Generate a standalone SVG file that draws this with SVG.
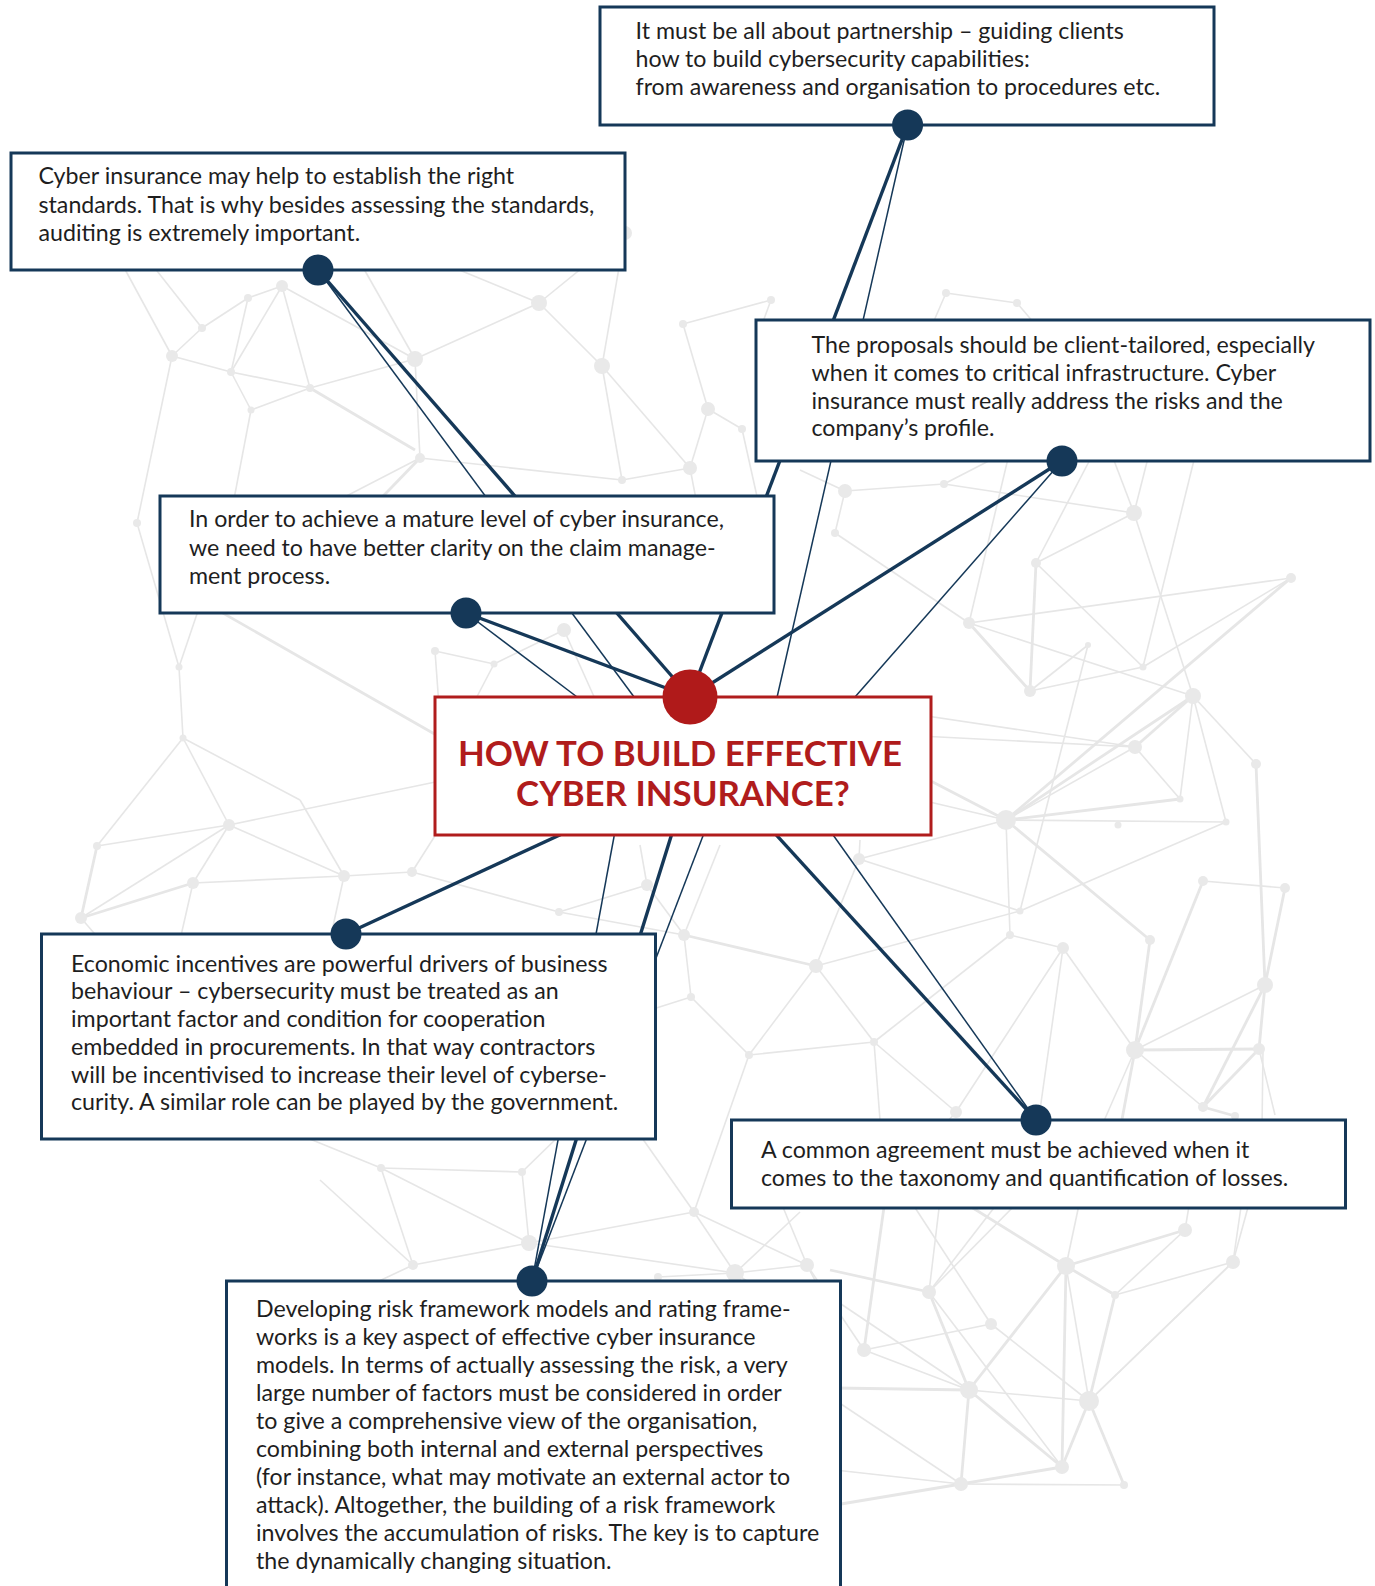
<svg xmlns="http://www.w3.org/2000/svg" width="1375" height="1586" viewBox="0 0 1375 1586">
<style>
.bg line{stroke:#e6e6e6;stroke-width:1.6}
.bg .w{stroke-width:2.8}
.bg circle{fill:#e9e9e9}
.box{fill:#fff;stroke:#153858;stroke-width:3}
.cbox{fill:#fff;stroke:#b01c1c;stroke-width:3}
.t{font-family:Lato,"Liberation Sans",sans-serif;font-size:23.2px;fill:#1e1e1e}
.title{font-family:Lato,"Liberation Sans",sans-serif;font-weight:bold;font-size:34.8px;fill:#b01c1c;text-anchor:middle}
.thick{stroke:#153858;stroke-width:3.4;fill:none}
.thin{stroke:#153858;stroke-width:1.5;fill:none}
.dot{fill:#153858}
</style>
<rect width="1375" height="1586" fill="#fff"/>
<g class="bg" id="background">
<line x1="121" y1="262" x2="172" y2="356"/><line x1="202" y1="328" x2="172" y2="356"/><line x1="202" y1="328" x2="248" y2="298"/>
<line x1="172" y1="356" x2="231" y2="372"/><line x1="231" y1="372" x2="248" y2="298"/><line x1="231" y1="372" x2="282" y2="286"/>
<line x1="248" y1="298" x2="282" y2="286"/><line x1="282" y1="286" x2="310" y2="388"/><line x1="231" y1="372" x2="310" y2="388"/>
<line x1="251" y1="410" x2="310" y2="388"/><line x1="310" y1="388" x2="415" y2="359"/><line x1="415" y1="359" x2="420" y2="458"/>
<line x1="282" y1="286" x2="415" y2="359"/><line x1="172" y1="356" x2="137" y2="523"/><line x1="231" y1="372" x2="251" y2="410"/>
<line x1="415" y1="359" x2="539" y2="303"/><line x1="539" y1="303" x2="602" y2="366"/><line x1="602" y1="366" x2="690" y2="468"/>
<line x1="602" y1="366" x2="622" y2="480"/><line x1="708" y1="409" x2="690" y2="468"/><line x1="683" y1="324" x2="708" y2="409"/>
<line x1="683" y1="324" x2="771" y2="300"/><line x1="708" y1="409" x2="742" y2="429"/><line x1="690" y1="468" x2="622" y2="480"/>
<line x1="602" y1="366" x2="625" y2="233"/><line x1="539" y1="303" x2="625" y2="233"/><line x1="420" y1="458" x2="622" y2="480"/>
<line x1="360" y1="262" x2="415" y2="359"/><line x1="440" y1="262" x2="539" y2="303"/><line x1="150" y1="262" x2="202" y2="328"/>
<line x1="420" y1="458" x2="300" y2="520"/><line x1="251" y1="410" x2="230" y2="520"/><line x1="420" y1="458" x2="360" y2="520" class="w"/>
<line x1="690" y1="468" x2="700" y2="520"/><line x1="742" y1="429" x2="760" y2="510"/><line x1="310" y1="388" x2="415" y2="450" class="w"/>
<line x1="845" y1="491" x2="835" y2="533"/><line x1="845" y1="491" x2="944" y2="484"/><line x1="835" y1="533" x2="969" y2="623"/>
<line x1="845" y1="491" x2="800" y2="470"/><line x1="771" y1="300" x2="760" y2="330"/><line x1="946" y1="293" x2="930" y2="330"/>
<line x1="1017" y1="303" x2="1040" y2="330"/><line x1="946" y1="293" x2="1017" y2="303"/>
<line x1="944" y1="484" x2="1134" y2="513"/><line x1="1134" y1="513" x2="1036" y2="563"/><line x1="1134" y1="513" x2="1193" y2="696"/>
<line x1="1036" y1="563" x2="1030" y2="691" class="w"/><line x1="1036" y1="563" x2="1143" y2="667"/><line x1="1291" y1="578" x2="969" y2="623"/>
<line x1="1291" y1="578" x2="1143" y2="667"/><line x1="1291" y1="578" x2="1006" y2="820" class="w"/><line x1="969" y1="623" x2="1030" y2="691" class="w"/>
<line x1="969" y1="623" x2="1193" y2="696"/><line x1="1088" y1="645" x2="1030" y2="691"/><line x1="1088" y1="645" x2="1020" y2="911"/>
<line x1="1143" y1="667" x2="1030" y2="691"/><line x1="1143" y1="667" x2="1194" y2="460"/><line x1="1193" y1="696" x2="1135" y2="747" class="w"/>
<line x1="1193" y1="696" x2="1180" y2="799"/><line x1="1193" y1="696" x2="1006" y2="820" class="w"/><line x1="1193" y1="696" x2="1256" y2="764"/>
<line x1="1193" y1="696" x2="1226" y2="822"/><line x1="1135" y1="747" x2="1180" y2="799"/><line x1="1135" y1="747" x2="1006" y2="820"/>
<line x1="1256" y1="764" x2="1265" y2="985" class="w"/><line x1="1180" y1="799" x2="1006" y2="820" class="w"/><line x1="1006" y1="820" x2="1226" y2="822"/>
<line x1="1006" y1="820" x2="1010" y2="935"/><line x1="1006" y1="820" x2="1150" y2="940" class="w"/><line x1="1226" y1="822" x2="1020" y2="911"/>
<line x1="1203" y1="881" x2="1285" y2="888"/><line x1="1203" y1="881" x2="1135" y2="1050" class="w"/><line x1="1285" y1="888" x2="1265" y2="985" class="w"/>
<line x1="1010" y1="935" x2="1063" y2="948"/><line x1="1063" y1="948" x2="1135" y2="1050"/><line x1="1063" y1="948" x2="956" y2="1112"/>
<line x1="1150" y1="940" x2="1135" y2="1050" class="w"/><line x1="1265" y1="985" x2="1135" y2="1050"/><line x1="1265" y1="985" x2="1259" y2="1049" class="w"/>
<line x1="1265" y1="985" x2="1203" y2="1107" class="w"/><line x1="1135" y1="1050" x2="1259" y2="1049" class="w"/><line x1="1135" y1="1050" x2="1203" y2="1107"/>
<line x1="1259" y1="1049" x2="1203" y2="1107" class="w"/><line x1="1203" y1="1107" x2="1235" y2="1116" class="w"/><line x1="1259" y1="1049" x2="1275" y2="1115"/>
<line x1="1134" y1="513" x2="1110" y2="450"/><line x1="1134" y1="513" x2="1150" y2="450"/><line x1="1036" y1="563" x2="1095" y2="450"/>
<line x1="969" y1="623" x2="1010" y2="450"/><line x1="944" y1="484" x2="1010" y2="450"/>
<line x1="900" y1="712" x2="1135" y2="747"/><line x1="900" y1="765" x2="1006" y2="820" class="w"/><line x1="900" y1="795" x2="1006" y2="820"/>
<line x1="900" y1="735" x2="1135" y2="747"/><line x1="1006" y1="820" x2="859" y2="859"/><line x1="1020" y1="911" x2="859" y2="859"/>
<line x1="956" y1="1112" x2="940" y2="1130"/><line x1="1135" y1="1050" x2="1100" y2="1130"/><line x1="1135" y1="1050" x2="1120" y2="1130" class="w"/>
<line x1="1263" y1="1049" x2="1262" y2="1130"/><line x1="1063" y1="948" x2="1040" y2="1110"/>
<line x1="179" y1="667" x2="183" y2="738"/><line x1="183" y1="738" x2="229" y2="825"/><line x1="229" y1="825" x2="97" y2="846"/>
<line x1="229" y1="825" x2="81" y2="918"/><line x1="97" y1="846" x2="81" y2="918" class="w"/><line x1="81" y1="918" x2="193" y2="883" class="w"/>
<line x1="193" y1="883" x2="229" y2="825"/><line x1="193" y1="883" x2="344" y2="876"/><line x1="229" y1="825" x2="344" y2="876"/>
<line x1="344" y1="876" x2="412" y2="872"/><line x1="179" y1="667" x2="137" y2="523"/><line x1="435" y1="651" x2="494" y2="664"/>
<line x1="494" y1="664" x2="564" y2="630"/><line x1="435" y1="651" x2="440" y2="720"/><line x1="564" y1="630" x2="600" y2="710"/>
<line x1="494" y1="664" x2="470" y2="710"/><line x1="200" y1="600" x2="445" y2="740" class="w"/><line x1="179" y1="667" x2="200" y2="605"/>
<line x1="412" y1="872" x2="445" y2="820"/><line x1="344" y1="876" x2="330" y2="940"/><line x1="193" y1="883" x2="180" y2="940"/>
<line x1="81" y1="918" x2="100" y2="940"/><line x1="183" y1="738" x2="300" y2="800"/><line x1="300" y1="800" x2="344" y2="876"/>
<line x1="97" y1="846" x2="183" y2="738"/><line x1="229" y1="825" x2="445" y2="780"/><line x1="412" y1="872" x2="559" y2="912"/>
<line x1="647" y1="885" x2="559" y2="912"/><line x1="647" y1="885" x2="684" y2="935"/><line x1="559" y1="912" x2="684" y2="935"/>
<line x1="684" y1="935" x2="816" y2="966" class="w"/><line x1="684" y1="935" x2="691" y2="997"/><line x1="816" y1="966" x2="859" y2="859"/>
<line x1="816" y1="966" x2="749" y2="1055"/><line x1="816" y1="966" x2="874" y2="1042"/><line x1="691" y1="997" x2="749" y2="1055"/>
<line x1="859" y1="859" x2="860" y2="840"/><line x1="647" y1="885" x2="640" y2="845"/><line x1="684" y1="935" x2="720" y2="845"/>
<line x1="816" y1="966" x2="1020" y2="911"/><line x1="874" y1="1042" x2="956" y2="1112"/><line x1="874" y1="1042" x2="1010" y2="935"/>
<line x1="749" y1="1055" x2="694" y2="1212"/><line x1="874" y1="1042" x2="880" y2="1120"/><line x1="691" y1="997" x2="650" y2="1010"/>
<line x1="749" y1="1055" x2="874" y2="1042"/>
<line x1="381" y1="1168" x2="522" y2="1172"/><line x1="381" y1="1168" x2="529" y2="1243"/><line x1="381" y1="1168" x2="413" y2="1265"/>
<line x1="522" y1="1172" x2="529" y2="1243"/><line x1="529" y1="1243" x2="413" y2="1265"/><line x1="529" y1="1243" x2="694" y2="1212"/>
<line x1="529" y1="1243" x2="735" y2="1273"/><line x1="694" y1="1212" x2="735" y2="1273"/><line x1="735" y1="1273" x2="807" y2="1265"/>
<line x1="658" y1="1277" x2="735" y2="1273"/><line x1="381" y1="1168" x2="300" y2="1135"/><line x1="522" y1="1172" x2="560" y2="1135"/>
<line x1="694" y1="1212" x2="640" y2="1135"/><line x1="413" y1="1265" x2="360" y2="1290"/><line x1="735" y1="1273" x2="760" y2="1290"/>
<line x1="807" y1="1265" x2="820" y2="1290"/><line x1="807" y1="1265" x2="780" y2="1200"/><line x1="694" y1="1212" x2="807" y2="1265"/>
<line x1="413" y1="1265" x2="320" y2="1180"/><line x1="807" y1="1265" x2="864" y2="1350"/><line x1="735" y1="1273" x2="800" y2="1212"/>
<line x1="1185" y1="1230" x2="1066" y2="1266" class="w"/><line x1="1185" y1="1230" x2="1115" y2="1295"/><line x1="1185" y1="1230" x2="1190" y2="1200"/>
<line x1="1066" y1="1266" x2="1115" y2="1295" class="w"/><line x1="1066" y1="1266" x2="969" y2="1390" class="w"/><line x1="1066" y1="1266" x2="1062" y2="1467" class="w"/>
<line x1="1066" y1="1266" x2="1089" y2="1401"/><line x1="1066" y1="1266" x2="1080" y2="1200"/><line x1="1066" y1="1266" x2="960" y2="1200" class="w"/>
<line x1="1233" y1="1262" x2="1115" y2="1295"/><line x1="1233" y1="1262" x2="1089" y2="1401"/><line x1="1233" y1="1262" x2="1242" y2="1200"/>
<line x1="1233" y1="1262" x2="1250" y2="1200"/><line x1="929" y1="1292" x2="969" y2="1390" class="w"/><line x1="929" y1="1292" x2="1062" y2="1467"/>
<line x1="929" y1="1292" x2="940" y2="1200"/><line x1="929" y1="1292" x2="1020" y2="1200"/><line x1="929" y1="1292" x2="1000" y2="1200"/>
<line x1="929" y1="1292" x2="830" y2="1270" class="w"/><line x1="991" y1="1324" x2="864" y2="1350"/><line x1="991" y1="1324" x2="1089" y2="1401"/>
<line x1="991" y1="1324" x2="910" y2="1200"/><line x1="864" y1="1350" x2="969" y2="1390"/><line x1="864" y1="1350" x2="885" y2="1200" class="w"/>
<line x1="969" y1="1390" x2="1089" y2="1401"/><line x1="969" y1="1390" x2="961" y2="1484" class="w"/><line x1="969" y1="1390" x2="1062" y2="1467" class="w"/>
<line x1="1089" y1="1401" x2="1115" y2="1295" class="w"/><line x1="1089" y1="1401" x2="1062" y2="1467" class="w"/><line x1="1089" y1="1401" x2="1124" y2="1485" class="w"/>
<line x1="961" y1="1484" x2="1062" y2="1467" class="w"/><line x1="961" y1="1484" x2="1124" y2="1485"/><line x1="961" y1="1484" x2="835" y2="1505" class="w"/>
<line x1="961" y1="1484" x2="835" y2="1470"/><line x1="835" y1="1300" x2="969" y2="1390"/><line x1="835" y1="1400" x2="961" y2="1484"/>
<line x1="835" y1="1388" x2="969" y2="1390" class="w"/><line x1="1089" y1="1401" x2="1233" y2="1262"/>
<circle cx="202" cy="328" r="4"/><circle cx="172" cy="356" r="6"/><circle cx="231" cy="372" r="4"/><circle cx="248" cy="298" r="4"/>
<circle cx="282" cy="286" r="6"/><circle cx="251" cy="410" r="3.5"/><circle cx="310" cy="388" r="4"/><circle cx="415" cy="359" r="8"/>
<circle cx="420" cy="458" r="5"/><circle cx="137" cy="523" r="4"/><circle cx="539" cy="303" r="8"/><circle cx="602" cy="366" r="8"/>
<circle cx="683" cy="324" r="4"/><circle cx="708" cy="409" r="7"/><circle cx="690" cy="468" r="7"/><circle cx="622" cy="480" r="4"/>
<circle cx="771" cy="300" r="4"/><circle cx="742" cy="429" r="4"/><circle cx="625" cy="233" r="7"/><circle cx="845" cy="491" r="7"/>
<circle cx="835" cy="533" r="4"/><circle cx="946" cy="293" r="4"/><circle cx="1017" cy="303" r="4"/>
<circle cx="944" cy="484" r="4"/><circle cx="1134" cy="513" r="8"/><circle cx="1036" cy="563" r="5"/><circle cx="1291" cy="578" r="5"/>
<circle cx="969" cy="623" r="6"/><circle cx="1088" cy="645" r="3"/><circle cx="1143" cy="667" r="3.5"/><circle cx="1030" cy="691" r="6"/>
<circle cx="1193" cy="696" r="8"/><circle cx="1135" cy="747" r="7"/><circle cx="1256" cy="764" r="5"/><circle cx="1180" cy="799" r="3.5"/>
<circle cx="1006" cy="820" r="10"/><circle cx="1118" cy="825" r="3.5"/><circle cx="1226" cy="822" r="3.5"/><circle cx="1203" cy="881" r="5"/>
<circle cx="1285" cy="888" r="5"/><circle cx="1020" cy="911" r="3.5"/><circle cx="1010" cy="935" r="4"/><circle cx="1063" cy="948" r="6"/>
<circle cx="1150" cy="940" r="5"/><circle cx="1265" cy="985" r="8"/><circle cx="1135" cy="1050" r="9"/><circle cx="1259" cy="1049" r="6"/>
<circle cx="1203" cy="1107" r="5"/><circle cx="1235" cy="1116" r="4"/><circle cx="956" cy="1112" r="6"/>
<circle cx="179" cy="667" r="3.5"/><circle cx="183" cy="738" r="3.5"/><circle cx="229" cy="825" r="6"/><circle cx="97" cy="846" r="4"/>
<circle cx="81" cy="918" r="6"/><circle cx="193" cy="883" r="6"/><circle cx="344" cy="876" r="6"/><circle cx="412" cy="872" r="5"/>
<circle cx="435" cy="651" r="4"/><circle cx="494" cy="664" r="3.5"/><circle cx="564" cy="630" r="7"/>
<circle cx="647" cy="885" r="6"/><circle cx="559" cy="912" r="4"/><circle cx="684" cy="935" r="6"/><circle cx="859" cy="859" r="6"/>
<circle cx="816" cy="966" r="7"/><circle cx="691" cy="997" r="4"/><circle cx="749" cy="1055" r="4"/><circle cx="874" cy="1042" r="4"/>
<circle cx="381" cy="1168" r="4"/><circle cx="522" cy="1172" r="4"/><circle cx="529" cy="1243" r="8"/><circle cx="413" cy="1265" r="5"/>
<circle cx="694" cy="1212" r="5"/><circle cx="735" cy="1273" r="9"/><circle cx="807" cy="1265" r="7"/><circle cx="658" cy="1277" r="4"/>
<circle cx="1185" cy="1230" r="7"/><circle cx="1066" cy="1266" r="9"/><circle cx="1233" cy="1262" r="7"/><circle cx="929" cy="1292" r="7"/>
<circle cx="1115" cy="1295" r="4"/><circle cx="991" cy="1324" r="6"/><circle cx="864" cy="1350" r="7"/><circle cx="969" cy="1390" r="9"/>
<circle cx="1089" cy="1401" r="10"/><circle cx="1062" cy="1467" r="7"/><circle cx="961" cy="1484" r="7"/><circle cx="1124" cy="1485" r="4"/>
</g>
<g id="connectors">
<line class="thick" x1="907.6" y1="125" x2="690" y2="697"/>
<line class="thin" x1="907.6" y1="125" x2="773" y2="715"/>
<line class="thick" x1="318" y1="270" x2="690" y2="697"/>
<line class="thin" x1="318" y1="270" x2="640" y2="705"/>
<line class="thick" x1="1062" y1="461" x2="690" y2="697"/>
<line class="thin" x1="1062" y1="461" x2="848" y2="705"/>
<line class="thick" x1="466" y1="613" x2="690" y2="697"/>
<line class="thin" x1="466" y1="613" x2="585" y2="703"/>
<line class="thick" x1="346" y1="934" x2="603" y2="815"/>
<line class="thick" x1="1036" y1="1120" x2="740" y2="795"/>
<line class="thin" x1="1036" y1="1120" x2="826" y2="825"/>
<line class="thick" x1="532" y1="1281" x2="684" y2="795"/>
<line class="thin" x1="532" y1="1281" x2="618" y2="815"/>
<line class="thin" x1="532" y1="1281" x2="711" y2="815"/>
</g>
<g id="node-partnership">
<rect class="box" x="600" y="7" width="614" height="118"/>
<text class="t" x="635.5" y="38.5">It must be all about partnership – guiding clients</text>
<text class="t" x="635.5" y="66.5">how to build cybersecurity capabilities:</text>
<text class="t" x="635.5" y="94.5">from awareness and organisation to procedures etc.</text>
<circle class="dot" cx="907.6" cy="125" r="15.5"/>
</g>
<g id="node-standards">
<rect class="box" x="11" y="153" width="614" height="117"/>
<text class="t" x="38.5" y="184">Cyber insurance may help to establish the right</text>
<text class="t" x="38.5" y="212.5">standards. That is why besides assessing the standards,</text>
<text class="t" x="38.5" y="240.5">auditing is extremely important.</text>
<circle class="dot" cx="318" cy="270" r="15.5"/>
</g>
<g id="node-tailored">
<rect class="box" x="756" y="320" width="614" height="141"/>
<text class="t" x="811.5" y="353">The proposals should be client-tailored, especially</text>
<text class="t" x="811.5" y="380.5">when it comes to critical infrastructure. Cyber</text>
<text class="t" x="811.5" y="408.5">insurance must really address the risks and the</text>
<text class="t" x="811.5" y="436">company’s profile.</text>
<circle class="dot" cx="1062" cy="461" r="15.5"/>
</g>
<g id="node-claims">
<rect class="box" x="160" y="496" width="614" height="117"/>
<text class="t" x="189" y="527">In order to achieve a mature level of cyber insurance,</text>
<text class="t" x="189" y="555.5">we need to have better clarity on the claim manage-</text>
<text class="t" x="189" y="583.5">ment process.</text>
<circle class="dot" cx="466" cy="613" r="15.5"/>
</g>
<g id="node-center">
<rect class="cbox" x="435" y="697" width="496" height="138"/>
<text class="title" x="680" y="766">HOW TO BUILD EFFECTIVE</text>
<text class="title" x="683" y="806">CYBER INSURANCE?</text>
<circle cx="690" cy="697" r="27.5" fill="#b01a1a"/>
</g>
<g id="node-incentives">
<rect class="box" x="41.5" y="934" width="614" height="205"/>
<text class="t" x="71" y="971.5">Economic incentives are powerful drivers of business</text>
<text class="t" x="71" y="999">behaviour – cybersecurity must be treated as an</text>
<text class="t" x="71" y="1027">important factor and condition for cooperation</text>
<text class="t" x="71" y="1054.5">embedded in procurements. In that way contractors</text>
<text class="t" x="71" y="1082.5">will be incentivised to increase their level of cyberse-</text>
<text class="t" x="71" y="1110">curity. A similar role can be played by the government.</text>
<circle class="dot" cx="346" cy="934" r="15.5"/>
</g>
<g id="node-taxonomy">
<rect class="box" x="731.5" y="1120" width="614" height="88"/>
<text class="t" x="761" y="1157.5">A common agreement must be achieved when it</text>
<text class="t" x="761" y="1186">comes to the taxonomy and quantification of losses.</text>
<circle class="dot" cx="1036" cy="1120" r="15.5"/>
</g>
<g id="node-risk">
<rect class="box" x="226.5" y="1281" width="614" height="330"/>
<text class="t" x="256" y="1317">Developing risk framework models and rating frame-</text>
<text class="t" x="256" y="1345">works is a key aspect of effective cyber insurance</text>
<text class="t" x="256" y="1373">models. In terms of actually assessing the risk, a very</text>
<text class="t" x="256" y="1401">large number of factors must be considered in order</text>
<text class="t" x="256" y="1429">to give a comprehensive view of the organisation,</text>
<text class="t" x="256" y="1457">combining both internal and external perspectives</text>
<text class="t" x="256" y="1485">(for instance, what may motivate an external actor to</text>
<text class="t" x="256" y="1513">attack). Altogether, the building of a risk framework</text>
<text class="t" x="256" y="1541">involves the accumulation of risks. The key is to capture</text>
<text class="t" x="256" y="1569">the dynamically changing situation.</text>
<circle class="dot" cx="532" cy="1281" r="15.5"/>
</g>
</svg>
